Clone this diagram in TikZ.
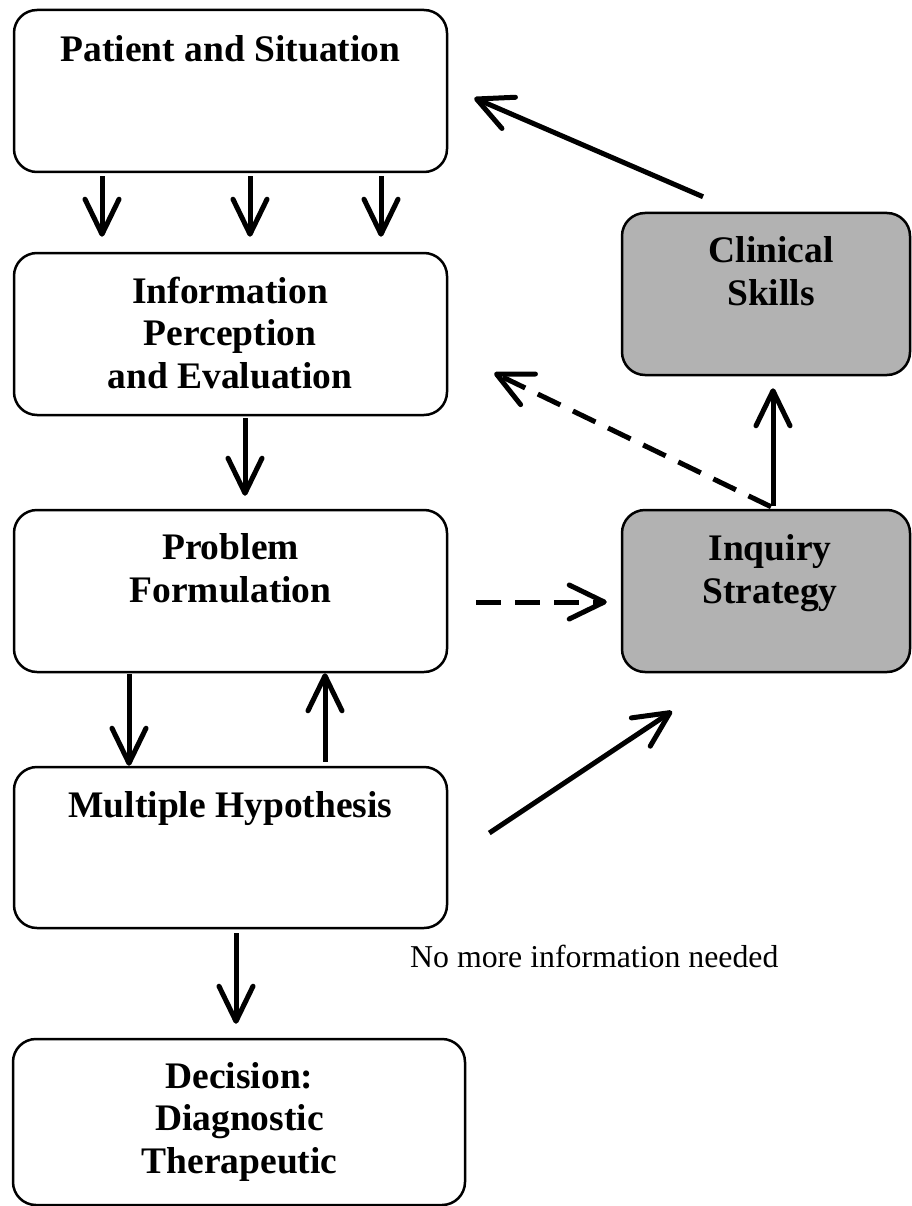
\documentclass[tikz,border=0pt]{standalone}
\usepackage{fontspec}
\setmainfont{Liberation Serif}
\usetikzlibrary{arrows.meta,calc}
\definecolor{boxgray}{gray}{0.70}
\begin{document}
\begin{tikzpicture}[x=1pt,y=-1pt,
  boxshape/.style={draw, line width=2.5pt, rounded corners=23pt, inner sep=0pt, minimum width=433pt, minimum height=162pt},
  grayshape/.style={boxshape, fill=boxgray, minimum width=288pt},
  boxtext/.style={anchor=base, align=center, inner sep=0pt, font=\fontsize{37.5}{42.5}\selectfont\bfseries},
  conn/.style={line width=5pt, -{Straight Barb[length=35pt,width=34pt,round]}},
  dconn/.style={conn, dash pattern=on 25pt off 14pt}]
\useasboundingbox (0,0) rectangle (911,1206);
% boxes
\node[boxshape] (p1) at (230.5,91) {};
\node[boxshape] (p2) at (230.5,334) {};
\node[boxshape] (p3) at (230.5,591) {};
\node[boxshape, minimum height=161pt] (p4) at (230.5,847.5) {};
\node[boxshape, minimum width=452pt, minimum height=166pt] (p5) at (239,1122) {};
\node[grayshape] (cs) at (766,294) {};
\node[grayshape] (is) at (766,591) {};
% texts (anchor = baseline of the last line)
\node[boxtext] (t1) at (230.5,62) {Patient and Situation};
\node[boxtext] (t2) at (230,388) {Information\\Perception\\and Evaluation};
\node[boxtext] (t3) at (230.5,602) {Problem\\Formulation};
\node[boxtext] (t4) at (230.5,817) {Multiple Hypothesis};
\node[boxtext] (t5) at (239.5,1173) {Decision:\\Diagnostic\\Therapeutic};
\node[boxtext] (tc) at (771,305) {Clinical\\Skills};
\node[boxtext] (ti) at (770,603) {Inquiry\\Strategy};
\node[anchor=base west, inner sep=0pt, font=\fontsize{31.8}{36}\selectfont] (nm) at (410,967) {No more information needed};
% connectors
\draw[conn] ($(p1.south)+(-128.5,3)$) -- ($(p2.north)+(-128.5,-15)$);
\draw[conn] ($(p1.south)+(19.5,3)$) -- ($(p2.north)+(19.5,-15)$);
\draw[conn] ($(p1.south)+(150.5,3)$) -- ($(p2.north)+(150.5,-15)$);
\draw[conn] ($(p2.south)+(14.5,2)$) -- ($(p3.north)+(14.5,-13)$);
\draw[conn] ($(p3.south)+(-101.5,1)$) -- ($(p4.north)+(-101.5,0)$);
\draw[conn] ($(p4.north)+(94.5,-4)$) -- ($(p3.south)+(94.5,0)$);
\draw[conn] ($(p4.south)+(5.5,4)$) -- ($(p5.north)+(-3,-14)$);
\draw[conn] ($(cs.north)+(-63,-15)$) -- ($(p1.east)+(26,7)$);
\draw[conn] ($(is.north)+(7,-3)$) -- ($(cs.south)+(7,12)$);
\draw[dconn] ($(is.north)+(5,-2)$) -- ($(p2.east)+(46,39)$);
\draw[dconn] ($(p3.east)+(28,11)$) -- ($(is.west)+(-14,11)$);
\draw[conn] ($(p4.east)+(41,-14.5)$) -- ($(is.south)+(-94,38)$);
\end{tikzpicture}
\end{document}
